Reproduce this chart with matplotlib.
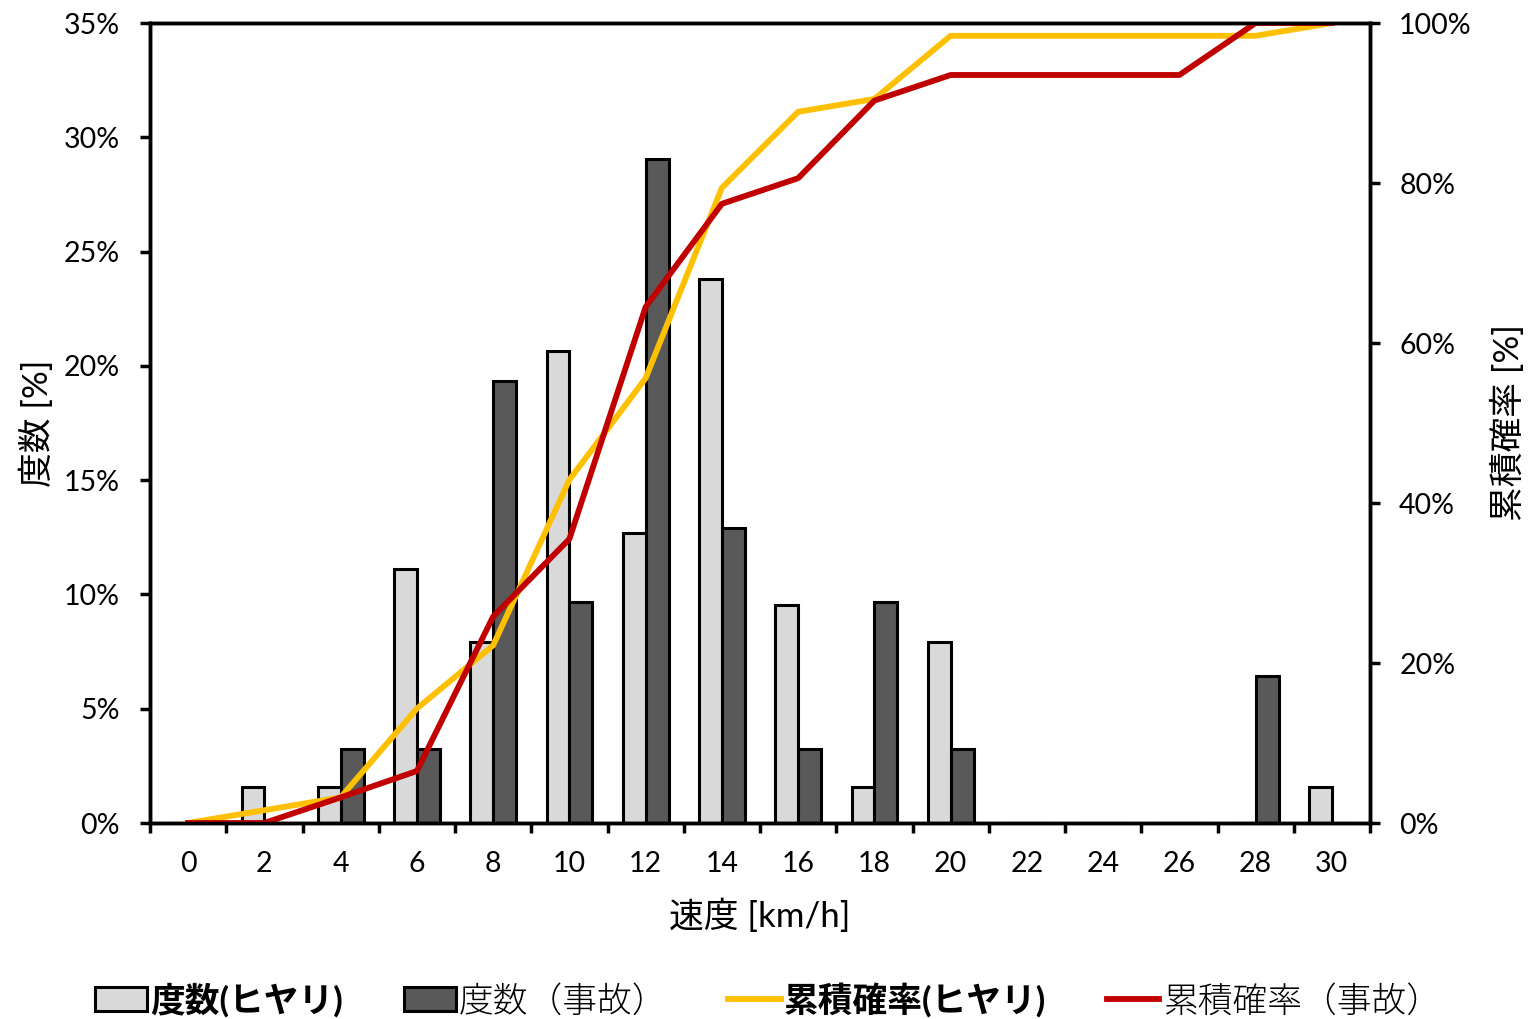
import numpy as np
import matplotlib.pyplot as plt
from matplotlib.ticker import FuncFormatter, MultipleLocator

plt.rcParams['font.family'] = ['Lato', 'Noto Sans CJK JP', 'DejaVu Sans']

# speed categories [km/h]
speeds = [0, 2, 4, 6, 8, 10, 12, 14, 16, 18, 20, 22, 24, 26, 28, 30]

# frequency [%]
freq_hiyari = [0, 1.59, 1.59, 11.11, 7.94, 20.63, 12.70, 23.81, 9.52, 1.59, 7.94, 0, 0, 0, 0, 1.59]
freq_jiko = [0, 0, 3.23, 3.23, 19.35, 9.68, 29.03, 12.90, 3.23, 9.68, 3.23, 0, 0, 0, 6.45, 0]

# cumulative probability [%]
cum_hiyari = [0, 1.6, 3.2, 14.3, 22.2, 42.9, 55.6, 79.4, 88.9, 90.5, 98.4, 98.4, 98.4, 98.4, 98.4, 100]
cum_jiko = [0, 0, 3.2, 6.5, 25.8, 35.5, 64.5, 77.4, 80.6, 90.3, 93.5, 93.5, 93.5, 93.5, 100, 100]

x = np.arange(len(speeds))
bw = 0.3

fig = plt.figure(figsize=(15.29, 10.19), dpi=100)
ax = fig.add_axes([150/1529, 1 - 823/1019, 1220/1529, 800/1019])
ax2 = ax.twinx()

b1 = ax.bar(x, freq_hiyari, width=-bw, align='edge', color='#D9D9D9',
            edgecolor='black', linewidth=2.2, label='度数(ヒヤリ)', zorder=2)
b2 = ax.bar(x, freq_jiko, width=bw, align='edge', color='#595959',
            edgecolor='black', linewidth=2.2, label='度数（事故）', zorder=2)

l1, = ax2.plot(x, cum_hiyari, color='#FFC000', lw=4.2, label='累積確率(ヒヤリ)')
l2, = ax2.plot(x, cum_jiko, color='#C00000', lw=4.2, label='累積確率（事故）')

ax.set_xlim(-0.5, len(speeds) - 0.5)
ax.set_ylim(0, 35)
ax2.set_ylim(0, 100)

ax.yaxis.set_major_locator(MultipleLocator(5))
ax.yaxis.set_major_formatter(FuncFormatter(lambda v, p: f'{v:.0f}%'))
ax2.yaxis.set_major_locator(MultipleLocator(20))
ax2.yaxis.set_major_formatter(FuncFormatter(lambda v, p: f'{v:.0f}%'))

ax.set_xticks(x)
ax.set_xticklabels([str(s) for s in speeds])
ax.set_xticks(np.arange(-0.5, len(speeds)), minor=True)
ax.tick_params(axis='x', which='major', length=0, pad=20, labelsize=20.5)
ax.tick_params(axis='x', which='minor', length=7, width=2.5, direction='out')
ax.tick_params(axis='y', length=7, width=2.5, pad=15, labelsize=20.5)
ax2.tick_params(axis='y', length=7, width=2.5, pad=14, labelsize=20.5)

for a in (ax, ax2):
    for s in a.spines.values():
        s.set_linewidth(2.5)
        s.set_color('black')

ax.set_xlabel('速度 [km/h]', fontsize=25, labelpad=16)
ax.set_ylabel('度数 [%]', fontsize=25, labelpad=7)
ax2.set_ylabel('累積確率 [%]', fontsize=25, labelpad=14)

leg = fig.legend(handles=[b1, b2, l1, l2], loc='center', ncol=4,
                 bbox_to_anchor=(0.502, 1 - 1000/1019), frameon=False,
                 fontsize=25, handlelength=1.5, handletextpad=0.1,
                 columnspacing=1.75)
for i, t in enumerate(leg.get_texts()):
    t.set_fontweight('bold' if i % 2 == 0 else 'light')

fig.savefig('out.png', dpi=100)
